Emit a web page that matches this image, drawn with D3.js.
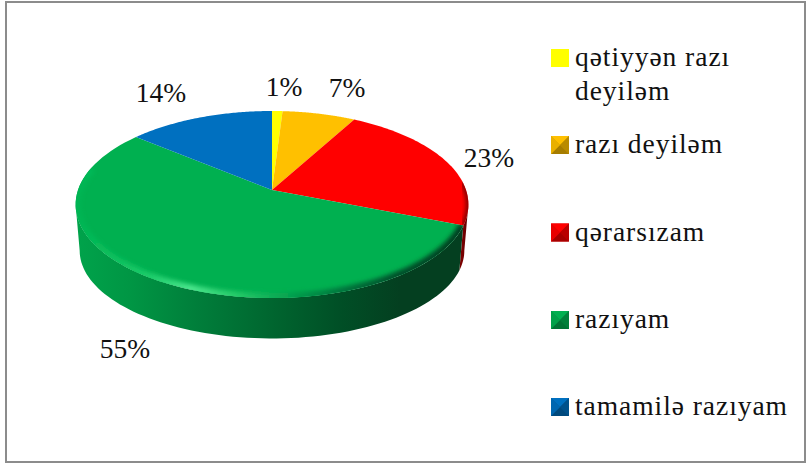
<!DOCTYPE html>
<html><head><meta charset="utf-8"><script src="https://d3js.org/d3.v7.min.js"></script>
<style>html,body{margin:0;background:#fff}svg{display:block}text{font-family:"Liberation Serif","DejaVu Serif",serif;fill:#111}</style></head>
<body><svg id="c" width="806" height="464"></svg>
<script>
const categories=["qətiyyən razı deyiləm","razı deyiləm","qərarsızam","razıyam","tamamilə razıyam"];
const values=[1,7,23,55,14];
const labels=["1%","7%","23%","55%","14%"];
const colors=["#ffff00","#ffc000","#ff0000","#00b050","#0070c0"];
const legendLines=[["qətiyyən razı","deyiləm"],["razı deyiləm"],["qərarsızam"],["razıyam"],["tamamilə razıyam"]];
const labelPos=[[284,96],[347,97],[489,167],[125,358],[161,102]];
const legendRows=[49,136,223.5,311,398];

const svg=d3.select("#c"), defs=svg.append("defs");
svg.append("rect").attr("x",6).attr("y",2).attr("width",799).attr("height",460).attr("fill","#fff").attr("stroke","#8c8c8c").attr("stroke-width",2);

// perspective mapping of a unit disc to the picture
const proj=(k,a,b,c,cx=272)=>(th,r=1)=>{const u=r*Math.sin(th),v=-r*Math.cos(th),w=1+c*v;return [cx+k*u/w,(a*v+b)/w];};
const topFace=proj(194,61.8,190,-0.155), botFace=proj(190,49,237,-0.155);
const arcs=d3.pie().sort(null).value(d=>d)(values);
const samples=(a0,a1,f)=>d3.range(0,81).map(i=>f(a0+(a1-a0)*i/80));
const line=d3.line();

function grad(id,stops){const g=defs.append("linearGradient").attr("id",id).attr("gradientUnits","userSpaceOnUse").attr("x1",76).attr("x2",468).attr("y1",0).attr("y2",0);
 stops.forEach(s=>g.append("stop").attr("offset",(s[0]-76)/392).attr("stop-color",s[1]));return `url(#${id})`;}
const wallGreen=grad("wg",[[76,"#00a34b"],[130,"#009644"],[200,"#007d3a"],[280,"#00632e"],[340,"#004f26"],[400,"#043f20"],[468,"#043f20"]]);
const rimGreen=grad("rg",[[76,"#00b452"],[100,"#08bc5a"],[150,"#1ccc6a"],[190,"#4ae68c"],[240,"#22c866"],[300,"#00984a"],[350,"#02703a"],[400,"#04502a"],[468,"#043f20"]]);
const wallRed=grad("wr",[[440,"#8a0000"],[462,"#7a0000"],[468,"#600000"]]);
defs.append("filter").attr("id","blur").attr("x","-5%").attr("y","-5%").attr("width","110%").attr("height","110%").append("feGaussianBlur").attr("stdDeviation",1.9);

[{i:2,fill:wallRed},{i:3,fill:wallGreen}].forEach(({i,fill})=>{
  const s=Math.max(arcs[i].startAngle,Math.PI*0.55), e=Math.min(arcs[i].endAngle,Math.PI*1.45);
  const pts=samples(s,e,topFace).concat(samples(e,s,botFace));
  svg.append("path").attr("d",line(pts)+"Z").attr("fill",fill);
});

arcs.forEach((d,i)=>{
  const pts=[topFace(0,0)].concat(samples(d.startAngle,d.endAngle,topFace));
  const dd=line(pts)+"Z";
  defs.append("clipPath").attr("id","cp"+i).append("path").attr("d",dd);
  svg.append("path").attr("d",dd).attr("fill",colors[i]);
});
[{i:2,st:"#7a0000",w:5,from:Math.PI*0.47},{i:3,st:rimGreen,w:10}].forEach(o=>{
  const d=arcs[o.i];
  const s=Math.max(d.startAngle,o.from||0), e=Math.min(d.endAngle,Math.PI*1.58);
  svg.append("g").attr("clip-path",`url(#cp${o.i})`).append("path")
   .attr("d",line(samples(s,e,topFace))).attr("fill","none").attr("stroke",o.st).attr("stroke-width",o.w).attr("filter","url(#blur)");
});

svg.selectAll("text.l").data(labels).join("text").attr("class","l")
  .attr("x",(d,i)=>labelPos[i][0]).attr("y",(d,i)=>labelPos[i][1]).attr("text-anchor","middle")
  .attr("font-size",27.5).text(d=>d);

legendLines.forEach((ls,i)=>{
  const x=551,y=legendRows[i],s=18,g=svg.append("g");
  g.append("rect").attr("x",x).attr("y",y).attr("width",s).attr("height",s).attr("fill",i===0?colors[0]:d3.rgb(colors[i]).darker(0.6).formatHex());
  if(i>0){
    const c=[x+s/2,y+s/2],tl=[x,y],tr=[x+s,y],br=[x+s,y+s],bl=[x,y+s];
    [[tl,tr,0],[tr,br,0.9],[br,bl,1.2],[bl,tl,0.25]].forEach(t=>{
      g.append("path").attr("d",line([t[0],t[1],c])+"Z").attr("fill",d3.rgb(colors[i]).darker(t[2]).formatHex());
    });
  }
  ls.forEach((t,j)=>g.append("text").attr("x",575).attr("y",y+17+j*34).attr("font-size",27.5).attr("letter-spacing",0.95).text(t));
});
</script></body></html>
